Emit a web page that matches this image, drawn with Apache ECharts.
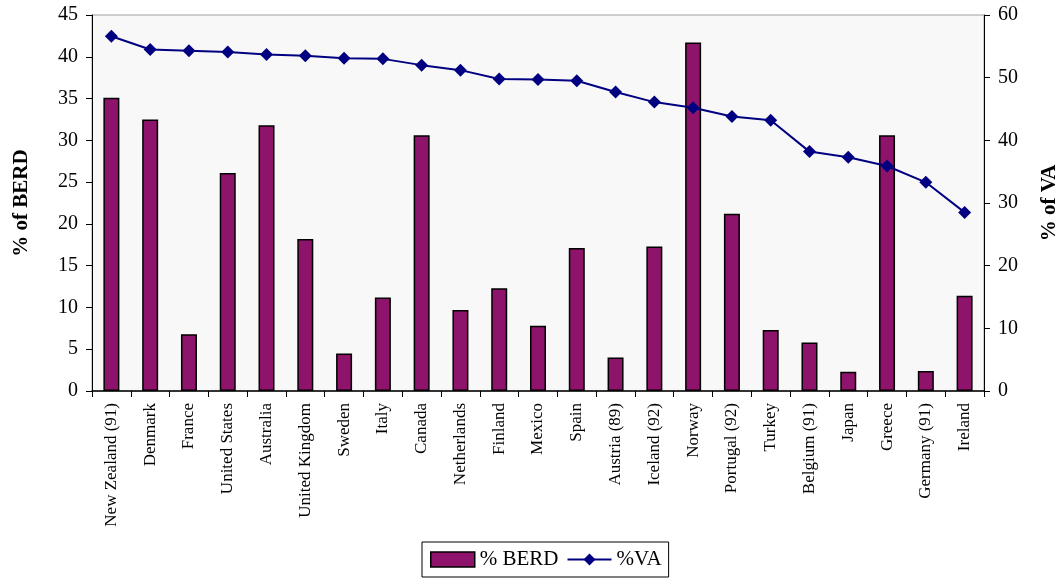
<!DOCTYPE html>
<html>
<head>
<meta charset="utf-8">
<script src="https://cdn.jsdelivr.net/npm/echarts@6/dist/echarts.min.js"></script>
<style>
  html, body { margin: 0; padding: 0; background: #ffffff; }
  #chart { width: 1061px; height: 579px; }
</style>
</head>
<body>
<div id="chart"></div>
<script>
// Countries (reference year in brackets where different)
const countries = [
  'New Zealand (91)', 'Denmark', 'France', 'United States', 'Australia',
  'United Kingdom', 'Sweden', 'Italy', 'Canada', 'Netherlands', 'Finland',
  'Mexico', 'Spain', 'Austria (89)', 'Iceland (92)', 'Norway', 'Portugal (92)',
  'Turkey', 'Belgium (91)', 'Japan', 'Greece', 'Germany (91)', 'Ireland'
];

// Share of business enterprise R&D (left axis)
const berd = [35.1, 32.5, 6.8, 26.1, 31.8, 18.2, 4.5, 11.2, 30.6, 9.7, 12.3,
  7.8, 17.1, 4.0, 17.3, 41.7, 21.2, 7.3, 5.8, 2.3, 30.6, 2.4, 11.4];

// Share of value added (right axis)
const va = [56.6, 54.5, 54.3, 54.1, 53.7, 53.5, 53.1, 53.0, 52.0, 51.2, 49.8,
  49.7, 49.5, 47.7, 46.1, 45.2, 43.8, 43.2, 38.2, 37.3, 35.9, 33.3, 28.5];

const serif = 'Liberation Serif, Times New Roman, serif';

const chart = echarts.init(document.getElementById('chart'), null, { renderer: 'canvas' });

chart.setOption({
  backgroundColor: '#ffffff',
  animation: false,
  textStyle: { fontFamily: serif, color: '#000' },
  grid: {
    left: 92, right: 77, top: 15, bottom: 188,
    outerBoundsMode: 'none',
    containLabel: false,
    show: true,
    backgroundColor: '#f8f8f8',
    borderColor: '#a0a0a0',
    borderWidth: 1
  },
  legend: {
    bottom: 2,
    left: 422,
    itemGap: 8,
    padding: [7, 7, 7, 8],
    borderColor: '#000',
    borderWidth: 1,
    textStyle: { fontFamily: serif, fontSize: 21, color: '#000' },
    data: [
      { name: '% BERD', icon: 'rect', itemStyle: { borderColor: '#000', borderWidth: 1.5 } },
      { name: '%VA' }
    ],
    itemWidth: 44,
    itemHeight: 15
  },
  xAxis: {
    type: 'category',
    data: countries,
    boundaryGap: true,
    axisLine: { lineStyle: { color: '#000', width: 1.5 } },
    axisTick: { show: true, alignWithLabel: false, length: 6, lineStyle: { color: '#000' } },
    axisLabel: {
      rotate: 90,
      interval: 0,
      margin: 12,
      fontFamily: serif,
      fontSize: 17,
      color: '#000'
    }
  },
  yAxis: [
    {
      type: 'value',
      min: 0, max: 45, interval: 5,
      name: '% of BERD',
      nameLocation: 'middle',
      nameGap: 60,
      nameRotate: 90,
      nameTextStyle: { fontFamily: serif, fontSize: 21, fontWeight: 'bold', color: '#000' },
      axisLine: { show: true, lineStyle: { color: '#000', width: 1 } },
      axisTick: { show: true, length: 6, lineStyle: { color: '#000' } },
      axisLabel: { fontFamily: serif, fontSize: 20, color: '#000', margin: 14 },
      splitLine: { show: false }
    },
    {
      type: 'value',
      min: 0, max: 60, interval: 10,
      name: '% of VA',
      nameLocation: 'middle',
      nameGap: 55,
      nameRotate: 90,
      nameTextStyle: { fontFamily: serif, fontSize: 21, fontWeight: 'bold', color: '#000' },
      axisLine: { show: true, lineStyle: { color: '#000', width: 1 } },
      axisTick: { show: true, length: 6, lineStyle: { color: '#000' } },
      axisLabel: { fontFamily: serif, fontSize: 20, color: '#000', margin: 14 },
      splitLine: { show: false }
    }
  ],
  series: [
    {
      name: '% BERD',
      type: 'bar',
      yAxisIndex: 0,
      data: berd,
      barWidth: 16,
      itemStyle: { color: '#8e136a', borderColor: '#000', borderWidth: 1.5 }
    },
    {
      name: '%VA',
      type: 'line',
      yAxisIndex: 1,
      data: va,
      symbol: 'diamond',
      symbolSize: 13,
      lineStyle: { color: '#000080', width: 2 },
      itemStyle: { color: '#000080' }
    }
  ]
});
</script>
</body>
</html>
